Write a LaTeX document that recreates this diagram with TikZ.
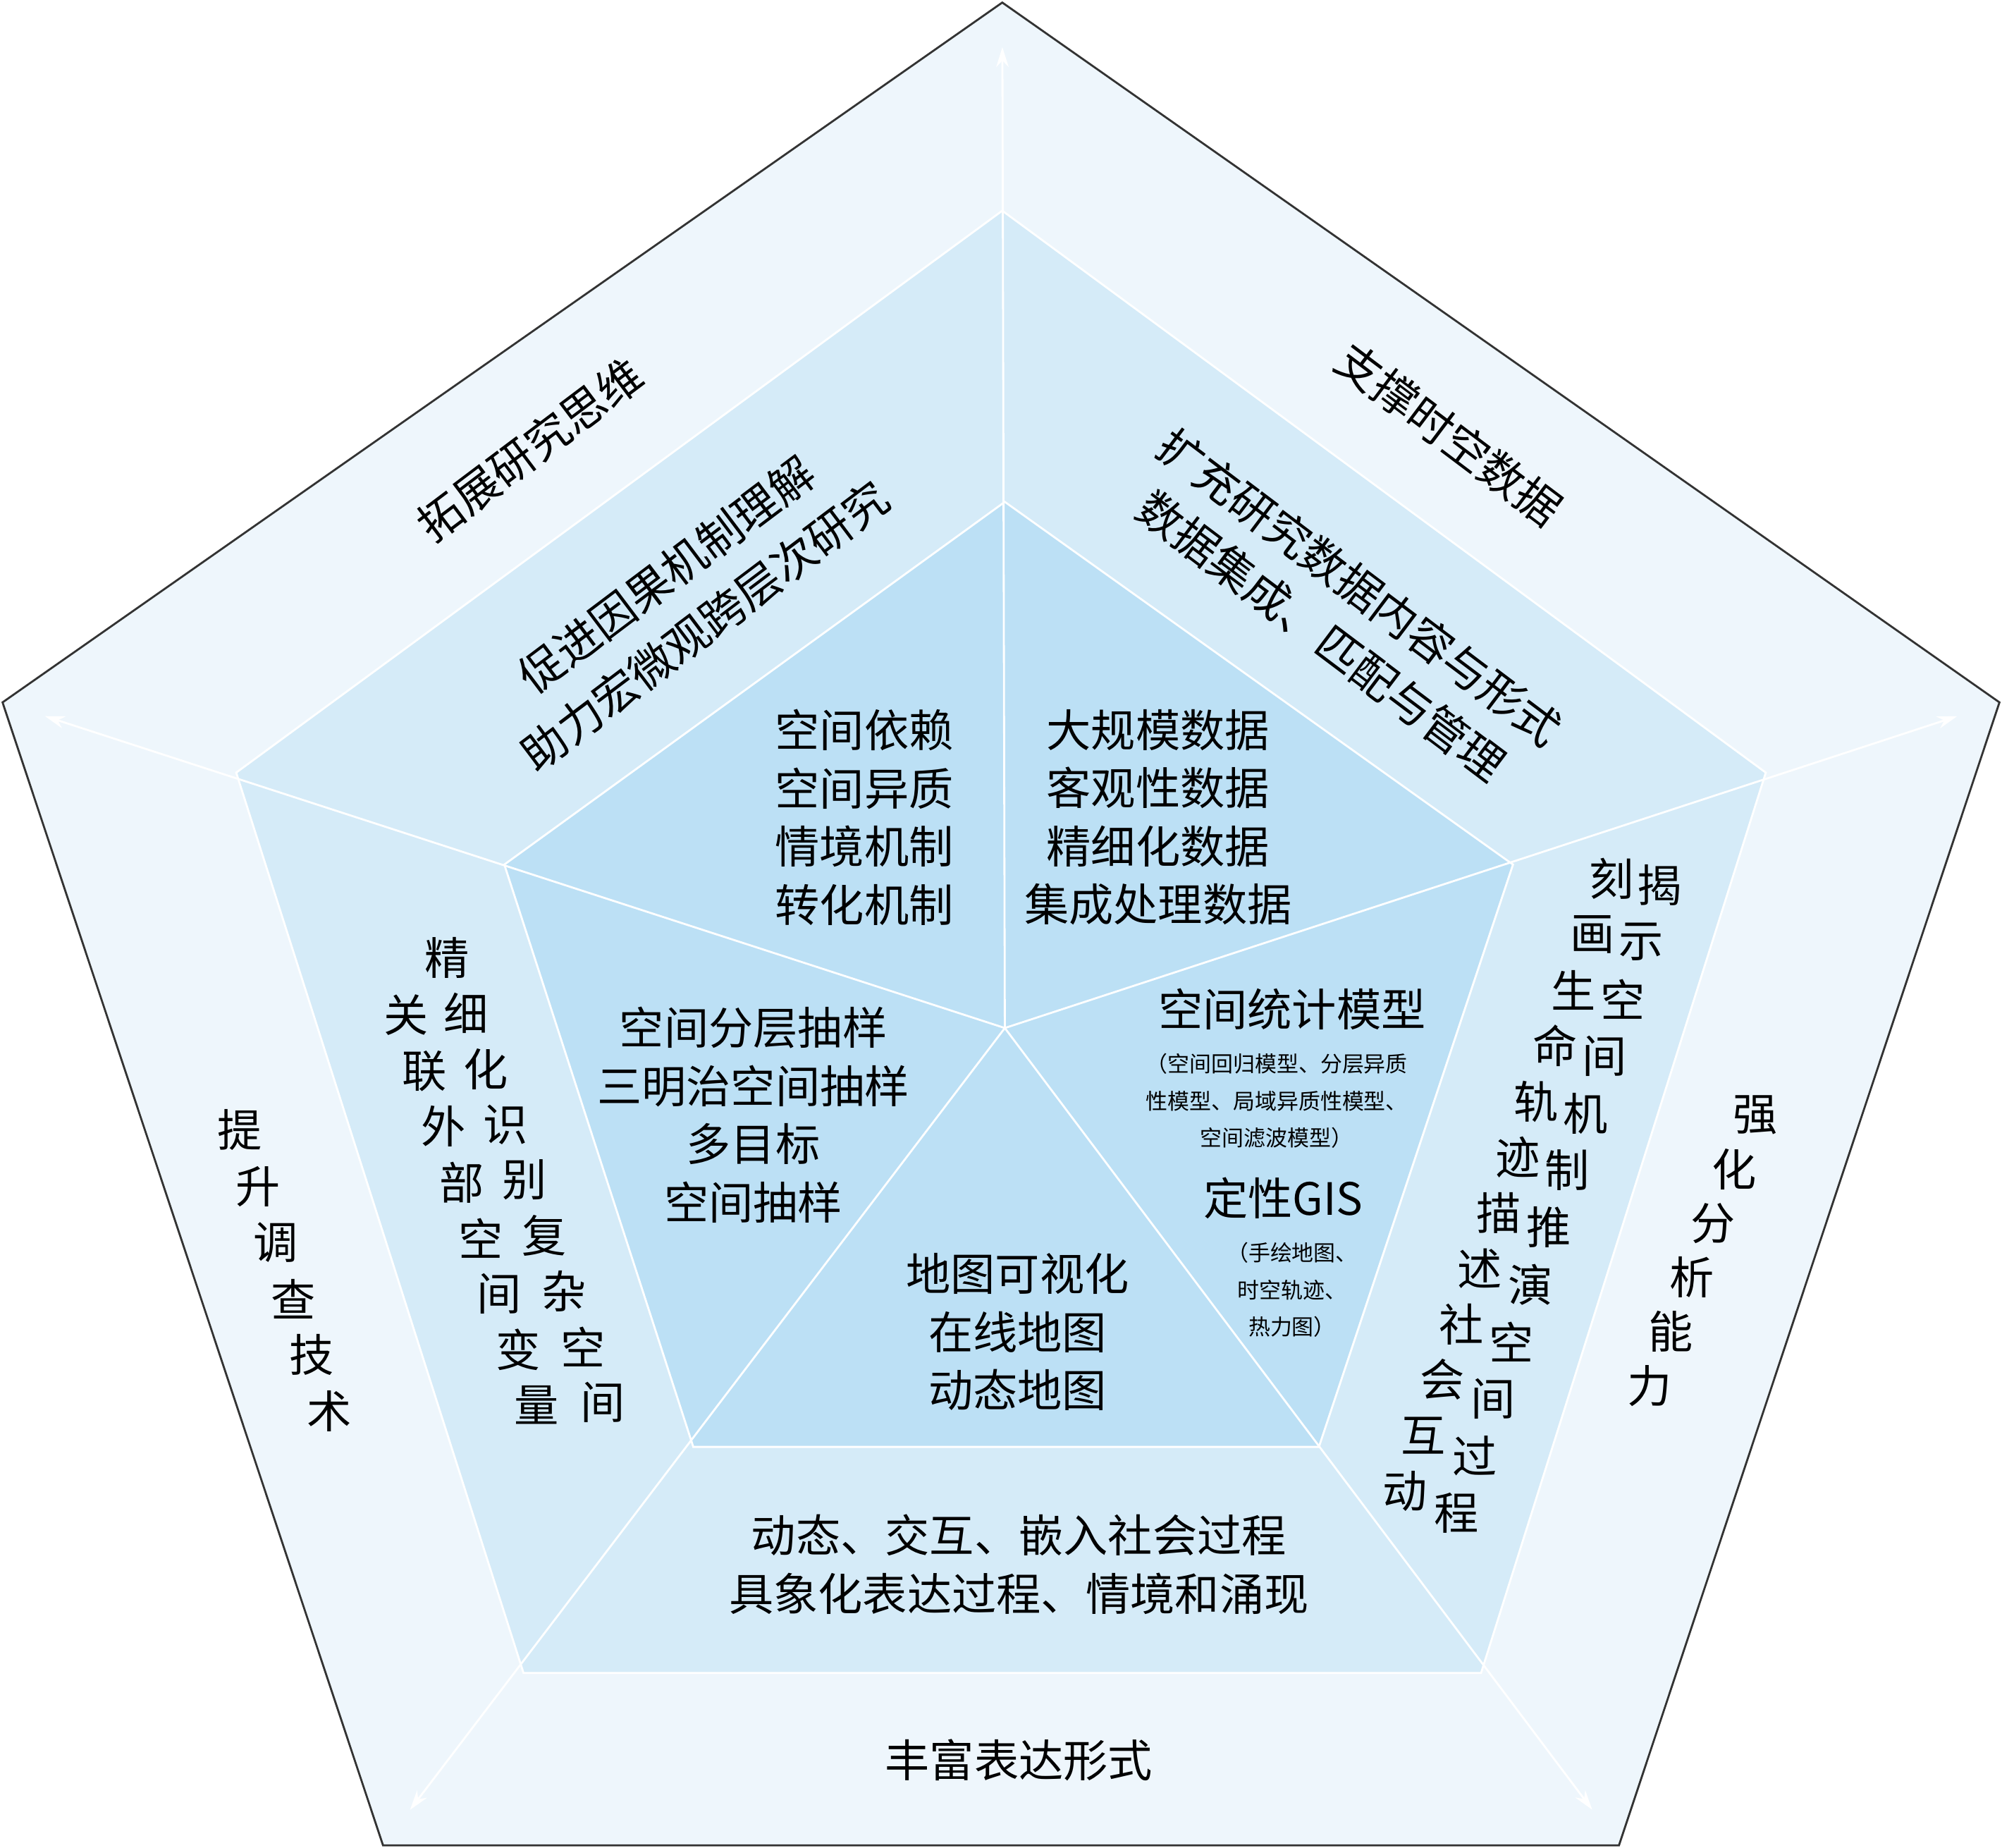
\documentclass[tikz,border=0pt]{standalone}
\usepackage{fontspec}
\setmainfont{Noto Sans CJK SC}
\usetikzlibrary{arrows.meta}
\definecolor{ringA}{HTML}{EEF6FC}
\definecolor{ringB}{HTML}{D5EBF8}
\definecolor{ringC}{HTML}{BCE0F5}
\begin{document}
\begin{tikzpicture}[x=0.01811cm, y=-0.01811cm,
  big/.style = {font=\fontsize{18}{23.5}\selectfont, align=center, inner sep=0pt},
  small/.style = {font=\fontsize{8.8}{15}\selectfont, align=center, inner sep=0pt},
  spoke/.style = {white, line width=0.8pt, -{Stealth[length=8pt,width=5pt]}, shorten >=18pt}]
\useasboundingbox (0,0) rectangle (1568,1447);
% vertices
\coordinate (o1) at (785,2);   \coordinate (o2) at (1566,550); \coordinate (o3) at (1268,1445);
\coordinate (o4) at (300,1445); \coordinate (o5) at (2,550);
\coordinate (m1) at (785,165); \coordinate (m2) at (1383,605); \coordinate (m3) at (1160,1310);
\coordinate (m4) at (410,1310); \coordinate (m5) at (185,605);
\coordinate (i1) at (787,393); \coordinate (i2) at (1185,677); \coordinate (i3) at (1033,1133);
\coordinate (i4) at (543,1133); \coordinate (i5) at (395,677);
\coordinate (c) at (787,805);

\filldraw[fill=ringA, draw=black!80, line width=0.8pt] (o1) -- (o2) -- (o3) -- (o4) -- (o5) -- cycle;
\fill[ringB] (m1) -- (m2) -- (m3) -- (m4) -- (m5) -- cycle;
\fill[ringC] (i1) -- (i2) -- (i3) -- (i4) -- (i5) -- cycle;
\draw[white, line width=0.8pt] (i1) -- (i2) -- (i3) -- (i4) -- (i5) -- cycle;
\draw[white, line width=0.8pt] (m1) -- (m2) -- (m3) -- (m4) -- (m5) -- cycle;
\foreach \v in {o1,o2,o3,o4,o5}
  \draw[spoke] (c) -- (\v);

% outer ring
\node[big, rotate=37] (tuozhan) at (415,352) {拓展研究思维};
\node[big, rotate=-37] (zhicheng) at (1135,340) {支撑时空数据};
\node[big] (fengfu) at (798,1378) {丰富表达形式};
\foreach \ch [count=\k from 0] in {提,升,调,查,技,术}
  \node[big] at (188+14*\k,885+44*\k) {\ch};
\foreach \ch [count=\k from 0] in {强,化,分,析,能,力}
  \node[big] at (1375-16.6*\k,873+42.4*\k) {\ch};

% middle ring
\node[big, rotate=37] (cujin) at (522,450) {促进因果机制理解};
\node[big, rotate=37] (zhuli) at (552,490) {助力宏微观跨层次研究};
\node[big, rotate=-37] (kuochong) at (1065,460) {扩充研究数据内容与形式};
\node[big, rotate=-37] (jicheng) at (1035,498) {数据集成、匹配与管理};
\node[big] (dongtai) at (798,1225) {动态、交互、嵌入社会过程\\具象化表达过程、情境和涌现};
\foreach \ch [count=\k from 0] in {精,细,化,识,别,复,杂,空,间}
  \node[big] at (350+15.25*\k,750+43.5*\k) {\ch};
\foreach \ch [count=\k from 0] in {关,联,外,部,空,间,变,量}
  \node[big] at (318+14.6*\k,795+43.6*\k) {\ch};
\foreach \ch [count=\k from 0] in {揭,示,空,间,机,制,推,演,空,间,过,程}
  \node[big] at (1300-14.5*\k,693+44.7*\k) {\ch};
\foreach \ch [count=\k from 0] in {刻,画,生,命,轨,迹,描,述,社,会,互,动}
  \node[big] at (1262-14.7*\k,688+43.6*\k) {\ch};

% inner pentagon
\node[big] (yilai) at (677,640) {空间依赖\\空间异质\\情境机制\\转化机制};
\node[big] (daguimo) at (907,640) {大规模数据\\客观性数据\\精细化数据\\集成处理数据};
\node[big] (chouyang) at (590,873) {空间分层抽样\\三明治空间抽样\\多目标\\空间抽样};
\node[big] (ditu) at (797,1043) {地图可视化\\在线地图\\动态地图};
\node[big] (tongji) at (1012,790) {空间统计模型};
\node[small] (tongjisub) at (1000,862) {（空间回归模型、分层异质\\性模型、局域异质性模型、\\空间滤波模型）};
\node[big] (gis) at (1005,938) {定性GIS};
\node[small] (gissub) at (1012,1010) {（手绘地图、\\时空轨迹、\\热力图）};
\end{tikzpicture}
\end{document}
